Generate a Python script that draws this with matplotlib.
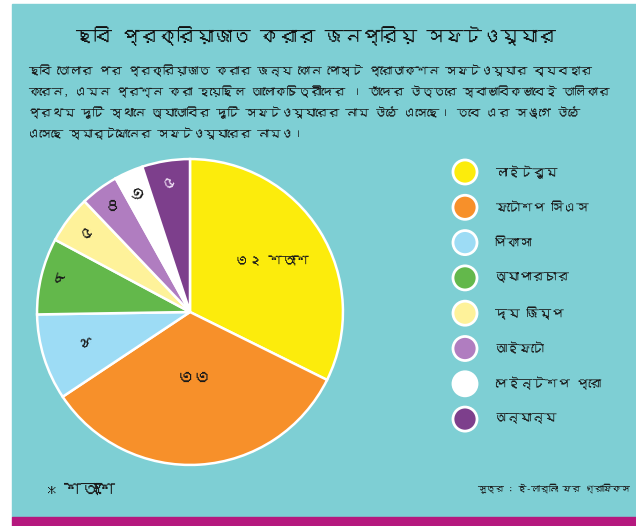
import matplotlib
matplotlib.use("Agg")
import matplotlib.pyplot as plt
from matplotlib import font_manager as fm
from matplotlib.ft2font import FT2Font
from matplotlib.patches import Rectangle
import numpy as np

# data
names = ["লাইটরুম", "ফটোশপ সিএস", "পিকাসা", "অ্যাপারচার",
         "দ্য জিম্প", "আইফটো", "পেইন্টশপ প্রো", "অন্যান্য"]
shares = [32, 33, 9, 8, 5, 4, 3, 5]
share_labels = ["৩২ শতাংশ", "৩৩", "৯", "৮", "৫", "৪", "৩", "৫"]
colors = ["#fcec0c", "#f7902a", "#9ddcf5", "#63b84b",
          "#fef29a", "#b07dc0", "#ffffff", "#7d3f8c"]

title = "ছবি প্রক্রিয়াজাত করার জনপ্রিয় সফটওয়্যার"
intro = [
    "ছবি তোলার পর প্রক্রিয়াজাত করার জন্য কোন পোস্ট প্রোডাকশন সফটওয়্যার ব্যবহার",
    "করেন, এমন প্রশ্ন করা হয়েছিল আলোকচিত্রীদের । তাঁদের উত্তরে স্বাভাবিকভাবেই তালিকার",
    "প্রথম দুটি স্থানে অ্যাডোবির দুটি সফটওয়্যারের নাম উঠে এসেছে। তবে এর সঙ্গে উঠে",
    "এসেছে স্মার্টফোনের সফটওয়্যারের নামও।",
]
note = "* শতাংশে"
source = "সূত্র : ই-লার্নিং ফর গ্রাফিকস"


def bengali_family():
    seen = set()
    for f in fm.fontManager.ttflist:
        if f.fname in seen:
            continue
        seen.add(f.fname)
        try:
            if 0x0995 in FT2Font(f.fname).get_charmap():
                return f.name
        except Exception:
            pass
    return None


fam = bengali_family()
plt.rcParams['font.family'] = ([fam] if fam else []) + ['DejaVu Sans']

W, H = 636, 526
fig = plt.figure(figsize=(W / 100, H / 100), dpi=100, facecolor="white")
renderer = fig.canvas.get_renderer()


def fit(texts, width):
    # shrink a group of texts to one font size so the widest one fits
    widest = max(t.get_window_extent(renderer).width for t in texts)
    for t in texts:
        t.set_fontsize(t.get_fontsize() * width / widest)


# background layer in pixel coordinates
bg = fig.add_axes([0, 0, 1, 1])
bg.set_xlim(0, W)
bg.set_ylim(H, 0)
bg.axis("off")
bg.add_patch(Rectangle((12, 4), W - 12, 513, color="#7ecfd4", zorder=0))
bg.add_patch(Rectangle((12, 517), W - 12, 9, color="#b5187e", zorder=0))

t = bg.text(316, 36, title, ha="center", va="center", fontsize=22,
            fontweight="bold", color="#111111")
fit([t], 480)

lines = [bg.text(28, 71 + i * 21, line, ha="left", va="center",
                 fontsize=10.5, color="#1a1a1a") for i, line in enumerate(intro)]
fit(lines, 586)

# legend
ys = [172 + i * 35.3 for i in range(len(names))]
bg.scatter([465] * len(names), ys, s=300, c=colors, edgecolors="white",
           linewidths=2, zorder=3)
labs = [bg.text(495, y, n, ha="left", va="center", fontsize=12,
                color="#1a1a1a") for y, n in zip(ys, names)]
fit(labs, 106)

t = bg.text(47, 490, note, ha="left", va="center", fontsize=11,
            color="#1a1a1a")
fit([t], 68)
t = bg.text(630, 488, source, ha="right", va="center", fontsize=10,
            color="#1a1a1a")
fit([t], 153)

# pie
ax = fig.add_axes([34 / W, 1 - 468 / H, 312 / W, 312 / H])
wedges, _ = ax.pie(shares, colors=colors, startangle=90, counterclock=False,
                   wedgeprops=dict(edgecolor="white", linewidth=1.8))
ax.set_xlim(-1.02, 1.02)
ax.set_ylim(-1.02, 1.02)
ax.axis("off")

label_r = [0.63, 0.43, 0.74, 0.88, 0.85, 0.86, 0.86, 0.86]
label_rot = [0, 0, -70, -15, 15, 0, 60, 20]
for w, lab, r, rot, c in zip(wedges, share_labels, label_r, label_rot, colors):
    a = np.deg2rad((w.theta1 + w.theta2) / 2)
    tc = "#f0e0f4" if c == "#7d3f8c" else "#1a1a1a"
    t = ax.text(r * np.cos(a), r * np.sin(a), lab, ha="center", va="center",
                fontsize=12.5, color=tc, rotation=rot)
    if len(lab) > 2:
        fit([t], 74)

fig.savefig("out.png", dpi=100, facecolor="white")
